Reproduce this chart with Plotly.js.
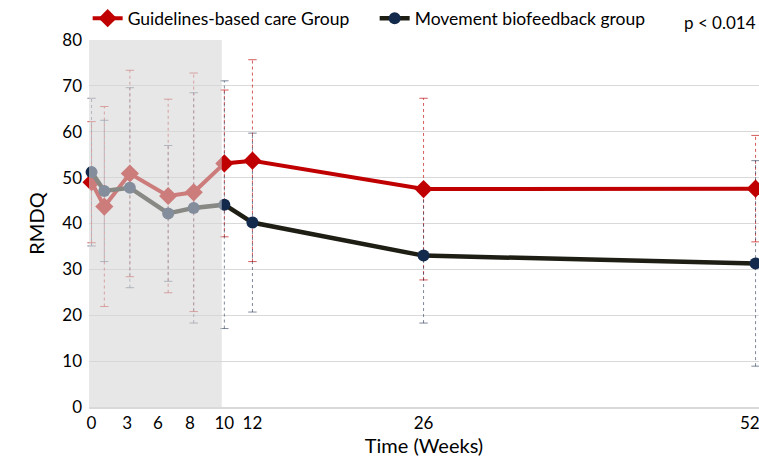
<!DOCTYPE html>
<html><head><meta charset="utf-8">
<script src="https://cdn.plot.ly/plotly-3.0.1.min.js"></script>
<style>html,body{margin:0;padding:0;background:#fff}#chart{width:759px;height:457px}</style>
</head><body><div id="chart"></div>
<script>
// Time points (weeks) as placed on the chart
const weeks = [0, 1, 3, 6, 8, 10.4, 12.6, 26, 52];
// Guidelines-based care group: mean and SD of RMDQ
const guidelinesMean = [49.0, 43.7, 50.9, 46.0, 46.8, 53.1, 53.7, 47.5, 47.6];
const guidelinesSD   = [13.2, 21.8, 22.5, 21.1, 26.0, 16.0, 22.0, 19.8, 11.6];
// Movement biofeedback group: mean and SD of RMDQ
const biofeedbackMean = [51.2, 47.1, 47.8, 42.2, 43.4, 44.1, 40.2, 33.0, 31.3];
const biofeedbackSD   = [16.1, 15.4, 21.8, 14.8, 25.1, 27.0, 19.5, 14.7, 22.4];
// X tick labels and their positions
const tickLabels = ['0', '3', '6', '8', '10', '12', '26', '52'];
const tickPos = [0, 2.8, 5.2, 7.7, 10.4, 12.6, 26, 51.55];
const shadeEnd = 10.2;
const pText = 'p < 0.014';

const FONT = 'Lato, "Open Sans", sans-serif';

function errTrace(x, m, s, color) {
  const xs = [], ys = [];
  for (let i = 0; i < x.length; i++) {
    xs.push(x[i], x[i], null);
    ys.push(m[i] - s[i], m[i] + s[i], null);
  }
  return {
    x: xs, y: ys, type: 'scatter', mode: 'lines+markers', showlegend: false,
    hoverinfo: 'skip', cliponaxis: false,
    line: {color: color, width: 1, dash: 'dot'},
    marker: {symbol: 'line-ew', size: 6, line: {color: color, width: 1}}
  };
}

const traces = [
  errTrace(weeks, guidelinesMean, guidelinesSD, 'rgba(192,0,0,0.65)'),
  errTrace(weeks, biofeedbackMean, biofeedbackSD, 'rgba(40,55,85,0.6)'),
  {
    x: weeks, y: guidelinesMean, type: 'scatter', mode: 'lines+markers',
    name: 'Guidelines-based care Group', cliponaxis: false,
    line: {color: '#C00000', width: 4},
    marker: {symbol: 'diamond', size: 14, color: '#C00000'}
  },
  {
    x: weeks, y: biofeedbackMean, type: 'scatter', mode: 'lines+markers',
    name: 'Movement biofeedback group', cliponaxis: false,
    line: {color: '#1E1E14', width: 4.5},
    marker: {symbol: 'circle', size: 12, color: '#132A4C'}
  }
];

const layout = {
  width: 759, height: 457,
  margin: {l: 89, r: 0, t: 36, b: 50},
  paper_bgcolor: '#fff', plot_bgcolor: '#fff',
  font: {family: FONT, size: 17, color: '#000'},
  showlegend: true,
  legend: {orientation: 'h', x: -0.002, xanchor: 'left', y: 1.01, yanchor: 'bottom',
           entrywidth: 242, entrywidthmode: 'pixels',
           font: {family: FONT, size: 17.5, color: '#000'}, bgcolor: 'rgba(0,0,0,0)'},
  xaxis: {
    range: [-0.2, 52.27], tickmode: 'array', tickvals: tickPos, ticktext: tickLabels,
    showgrid: false, zeroline: false, showline: true, linecolor: '#D9D9D9', linewidth: 1.5,
    ticks: '', tickfont: {size: 17}, ticklabeloverflow: 'allow',
    title: {text: 'Time (Weeks)', font: {size: 20}, standoff: 4}
  },
  yaxis: {
    range: [0, 80], dtick: 10, showgrid: true, gridcolor: '#D9D9D9', gridwidth: 1,
    zeroline: false, showline: false, ticks: '', tickfont: {size: 17}, ticklabelstandoff: 6,
    title: {text: 'RMDQ', font: {size: 20}, standoff: 12}
  },
  shapes: [{
    type: 'rect', layer: 'above', xref: 'x', yref: 'paper',
    x0: -0.2, x1: shadeEnd, y0: 0, y1: 1,
    fillcolor: 'rgba(214,214,214,0.58)', line: {width: 0}
  }],
  annotations: [{
    text: pText, xref: 'paper', yref: 'paper', x: 0.998, y: 1.0485,
    xanchor: 'right', yanchor: 'middle', showarrow: false,
    font: {family: FONT, size: 17, color: '#000'}
  }]
};

Plotly.newPlot('chart', traces, layout, {displayModeBar: false, staticPlot: true});
</script>
</body></html>
